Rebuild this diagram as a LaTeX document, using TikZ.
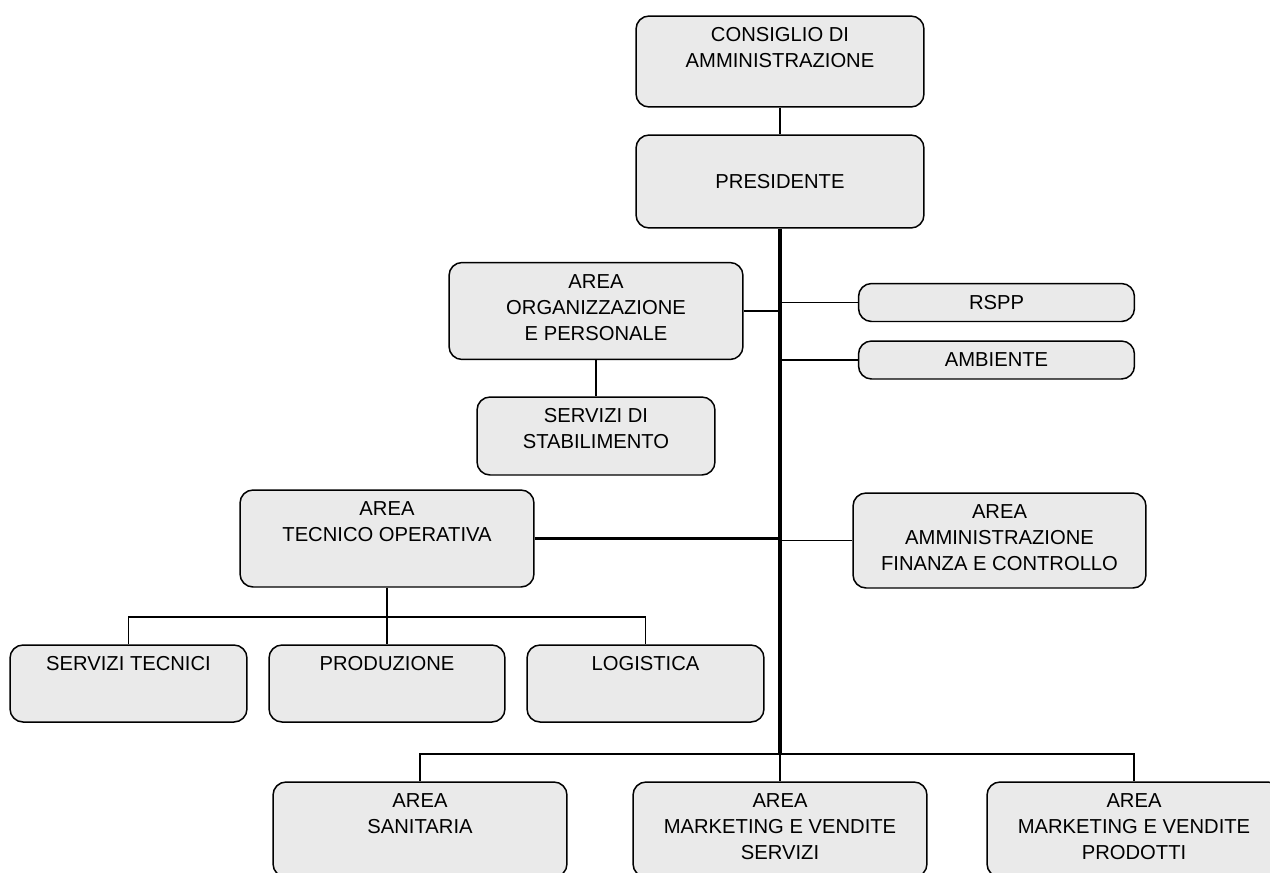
\documentclass[tikz,border=0pt]{standalone}
\usepackage{fontspec}
\setmainfont{Liberation Sans}
\usepackage{tikz}
\definecolor{boxfill}{RGB}{234,234,234}
\tikzset{
	unit/.style = {draw, line width=0.85pt, rounded corners=0.26cm, fill=boxfill, align=center, inner sep=0pt},
	lbl/.style = {anchor=north, align=center, inner sep=0pt, yshift=-0.24cm},
	conn/.style = {line width=0.8pt},
	conn2/.style = {line width=1.3pt},
	trunk/.style = {line width=1.8pt}
}

\begin{document}
\begin{tikzpicture}[x=0.02cm, y=-0.02cm, font=\fontsize{11.5}{14.8}\selectfont]
	\useasboundingbox (0,0) rectangle (1270,872);
	\clip (0,0) rectangle (1270,872);
	\node[unit, minimum width=5.76cm, minimum height=1.82cm, label={[lbl]north:{CONSIGLIO DI\\AMMINISTRAZIONE}}] (cda) at (780,61.5) {};
	\node[unit, minimum width=5.76cm, minimum height=1.86cm] (pres) at (780,181.5) {PRESIDENTE};
	\node[unit, minimum width=5.88cm, minimum height=1.94cm, label={[lbl]north:{AREA\\ORGANIZZAZIONE\\E PERSONALE}}] (org) at (596,311) {};
	\node[unit, minimum width=5.52cm, minimum height=0.76cm] (rspp) at (996.5,302.5) {RSPP};
	\node[unit, minimum width=5.52cm, minimum height=0.76cm] (amb) at (996.5,360) {AMBIENTE};
	\node[unit, minimum width=4.76cm, minimum height=1.56cm, label={[lbl]north:{SERVIZI DI\\STABILIMENTO}}] (stab) at (596,436) {};
	\node[unit, minimum width=5.88cm, minimum height=1.94cm, label={[lbl]north:{AREA\\TECNICO OPERATIVA}}] (tec) at (387,538.5) {};
	\node[unit, minimum width=5.86cm, minimum height=1.9cm, label={[lbl]north:{AREA\\AMMINISTRAZIONE\\FINANZA E CONTROLLO}}] (afc) at (999.5,540.5) {};
	\node[unit, minimum width=4.74cm, minimum height=1.54cm, label={[lbl]north:{SERVIZI TECNICI}}] (servtec) at (128.5,683.5) {};
	\node[unit, minimum width=4.72cm, minimum height=1.54cm, label={[lbl]north:{PRODUZIONE}}] (prod) at (387,683.5) {};
	\node[unit, minimum width=4.74cm, minimum height=1.54cm, label={[lbl]north:{LOGISTICA}}] (log) at (645.5,683.5) {};
	\node[unit, minimum width=5.88cm, minimum height=1.9cm, label={[lbl]north:{AREA\\SANITARIA}}] (san) at (420,829.5) {};
	\node[unit, minimum width=5.88cm, minimum height=1.9cm, label={[lbl]north:{AREA\\MARKETING E VENDITE\\SERVIZI}}] (mvs) at (780,829.5) {};
	\node[unit, minimum width=5.88cm, minimum height=1.9cm, label={[lbl]north:{AREA\\MARKETING E VENDITE\\PRODOTTI}}] (mvp) at (1134,829.5) {};
	\coordinate (split) at (780,754);
	\coordinate (tsplit) at (387,617);
	\draw[conn] (cda) -- (pres);
	\draw[trunk] (pres.south) -- (split);
	\draw[conn2] (org.east) -- (org.east -| pres.south);
	\draw[conn] (rspp.west) -- (rspp.west -| pres.south);
	\draw[conn] (amb.west) -- (amb.west -| pres.south);
	\draw[conn] (org) -- (stab);
	\draw[conn2] (tec.east) -- (tec.east -| pres.south);
	\draw[conn] (afc.west) -- (afc.west -| pres.south);
	\draw[conn2] (tec.south) -- (tsplit);
	\draw[conn] (servtec.north) -- (servtec.north |- tsplit) -- (log.north |- tsplit) -- (log.north);
	\draw[conn] (tsplit) -- (prod.north);
	\draw[conn] (san.north) -- (san.north |- split) -- (mvp.north |- split) -- (mvp.north);
	\draw[conn] (split) -- (mvs.north);
\end{tikzpicture}
\end{document}
